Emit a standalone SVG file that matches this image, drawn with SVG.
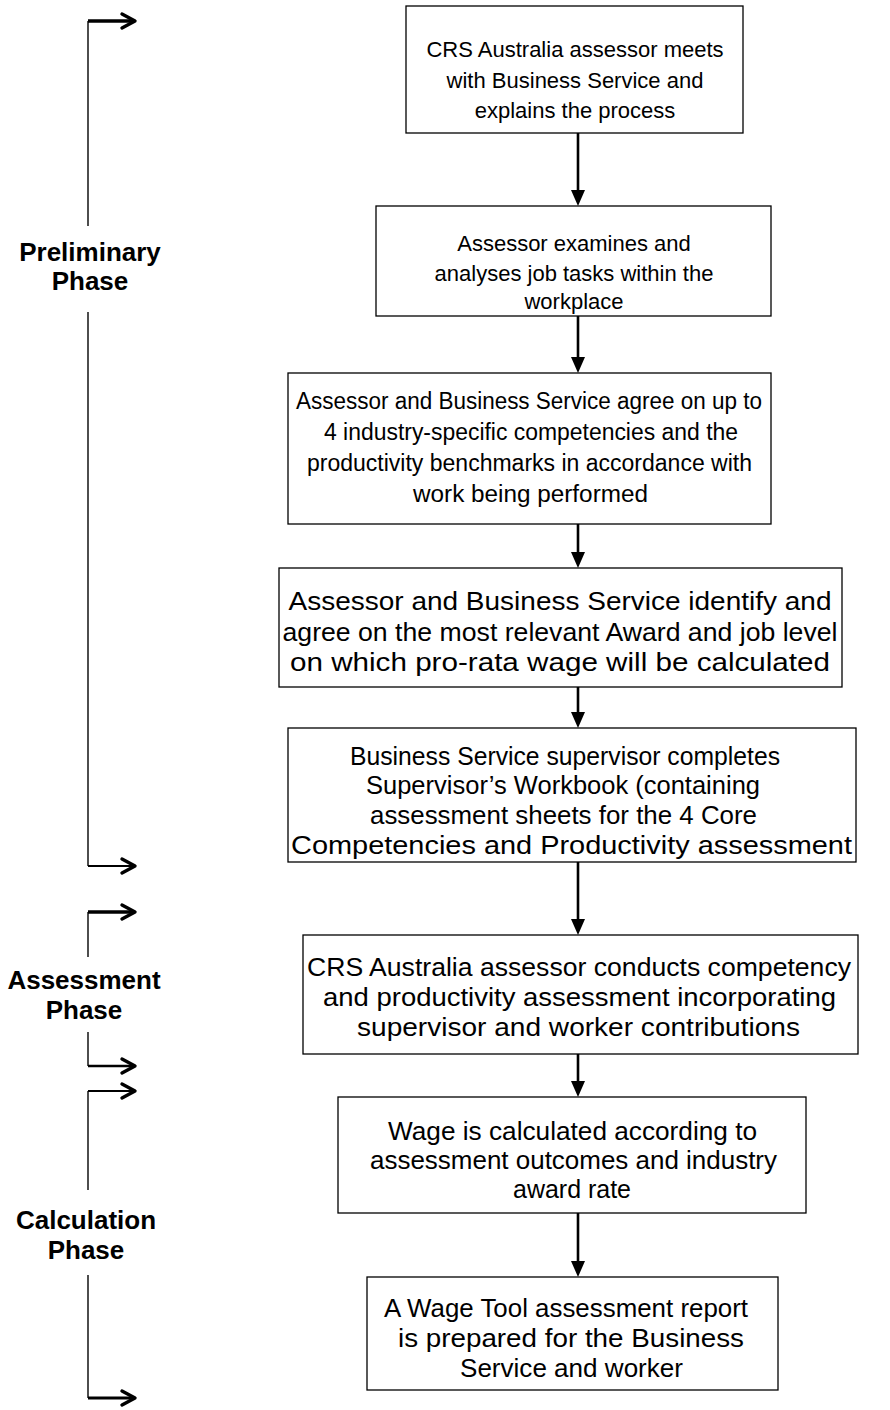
<svg xmlns="http://www.w3.org/2000/svg" width="890" height="1410" viewBox="0 0 890 1410">
<style>
.box{fill:#fff;stroke:#000;stroke-width:1.3}
.t{font-family:"Liberation Sans",Arial,sans-serif;font-size:22px;fill:#000;text-anchor:middle}
.m{font-size:23px}
.b{font-size:25px}
.c{font-size:26px}
.lb{font-family:"Liberation Sans",Arial,sans-serif;font-size:26px;font-weight:bold;fill:#000;text-anchor:middle}
.flow{stroke:#000;stroke-width:2.6;fill:none}
.br{stroke:#222;stroke-width:1.6;fill:none}
.hz{stroke:#000;fill:none}
.chev{stroke:#000;stroke-width:3.4;fill:none;stroke-linecap:round;stroke-linejoin:round}
</style>
<rect width="890" height="1410" fill="#fff"/>
<g id="connectors">
<line class="flow" x1="578" y1="133" x2="578" y2="192"/>
<line class="flow" x1="578" y1="316" x2="578" y2="359"/>
<line class="flow" x1="578" y1="524" x2="578" y2="554"/>
<line class="flow" x1="578" y1="687" x2="578" y2="714"/>
<line class="flow" x1="578" y1="862" x2="578" y2="921"/>
<line class="flow" x1="578" y1="1054" x2="578" y2="1083"/>
<line class="flow" x1="578" y1="1213" x2="578" y2="1263"/>
<g fill="#000">
<path d="M571,190 L585,190 L578,206 Z"/>
<path d="M571,357 L585,357 L578,373 Z"/>
<path d="M571,552 L585,552 L578,568 Z"/>
<path d="M571,712 L585,712 L578,728 Z"/>
<path d="M571,919 L585,919 L578,935 Z"/>
<path d="M571,1081 L585,1081 L578,1097 Z"/>
<path d="M571,1261 L585,1261 L578,1277 Z"/>
</g>
</g>
<g id="box1"><rect class="box" x="406" y="6" width="337" height="127"/>
<text class="t" x="575" y="57">CRS Australia assessor meets</text>
<text class="t" x="575" y="88">with Business Service and</text>
<text class="t" x="575" y="118">explains the process</text></g>
<g id="box2"><rect class="box" x="376" y="206" width="395" height="110"/>
<text class="t" x="574" y="251">Assessor examines and</text>
<text class="t" x="574" y="281">analyses job tasks within the</text>
<text class="t" x="574" y="309">workplace</text></g>
<g id="box3"><rect class="box" x="288" y="373" width="483" height="151"/>
<text class="t m" x="529" y="409" textLength="466" lengthAdjust="spacingAndGlyphs">Assessor and Business Service agree on up to</text>
<text class="t m" x="531" y="440" textLength="414" lengthAdjust="spacingAndGlyphs">4 industry-specific competencies and the</text>
<text class="t m" x="529.5" y="471" textLength="445" lengthAdjust="spacingAndGlyphs">productivity benchmarks in accordance with</text>
<text class="t m" x="530.5" y="502" textLength="235" lengthAdjust="spacingAndGlyphs">work being performed</text></g>
<g id="box4"><rect class="box" x="279" y="568" width="563" height="119"/>
<text class="t c" x="560" y="610" textLength="543" lengthAdjust="spacingAndGlyphs">Assessor and Business Service identify and</text>
<text class="t c" x="560" y="641" textLength="555" lengthAdjust="spacingAndGlyphs">agree on the most relevant Award and job level</text>
<text class="t c" x="560" y="671" textLength="540" lengthAdjust="spacingAndGlyphs">on which pro-rata wage will be calculated</text></g>
<g id="box5"><rect class="box" x="288" y="728" width="568" height="134"/>
<text class="t b" x="565" y="765" textLength="430" lengthAdjust="spacingAndGlyphs">Business Service supervisor completes</text>
<text class="t b" x="563" y="794" textLength="394" lengthAdjust="spacingAndGlyphs">Supervisor’s Workbook (containing</text>
<text class="t b" x="563.5" y="824" textLength="387" lengthAdjust="spacingAndGlyphs">assessment sheets for the 4 Core</text>
<text class="t c" x="571.5" y="854" textLength="561" lengthAdjust="spacingAndGlyphs">Competencies and Productivity assessment</text></g>
<g id="box6"><rect class="box" x="303" y="935" width="555" height="119"/>
<text class="t c" x="579" y="976" textLength="544" lengthAdjust="spacingAndGlyphs">CRS Australia assessor conducts competency</text>
<text class="t c" x="579.5" y="1006" textLength="513" lengthAdjust="spacingAndGlyphs">and productivity assessment incorporating</text>
<text class="t c" x="578.5" y="1036" textLength="443" lengthAdjust="spacingAndGlyphs">supervisor and worker contributions</text></g>
<g id="box7"><rect class="box" x="338" y="1097" width="468" height="116"/>
<text class="t b" x="572.5" y="1140" textLength="369" lengthAdjust="spacingAndGlyphs">Wage is calculated according to</text>
<text class="t b" x="573.5" y="1169" textLength="407" lengthAdjust="spacingAndGlyphs">assessment outcomes and industry</text>
<text class="t b" x="572" y="1198" textLength="118" lengthAdjust="spacingAndGlyphs">award rate</text></g>
<g id="box8"><rect class="box" x="367" y="1277" width="411" height="113"/>
<text class="t b" x="566" y="1317" textLength="364" lengthAdjust="spacingAndGlyphs">A Wage Tool assessment report</text>
<text class="t b" x="571" y="1347" textLength="346" lengthAdjust="spacingAndGlyphs">is prepared for the Business</text>
<text class="t b" x="571.5" y="1377" textLength="223" lengthAdjust="spacingAndGlyphs">Service and worker</text></g>
<g id="phase-preliminary">
<path class="br" d="M88,21 V226 M88,312 V866"/>
<line class="hz" x1="88" y1="21" x2="134" y2="21" stroke-width="3.5"/>
<polyline class="chev" points="122,14 135,21 122,28"/>
<line class="hz" x1="88" y1="866" x2="134" y2="866" stroke-width="2"/>
<polyline class="chev" points="122,859 135,866 122,873"/>
<text class="lb" x="90" y="261">Preliminary</text>
<text class="lb" x="90" y="290">Phase</text>
</g>
<g id="phase-assessment">
<path class="br" d="M88,912 V957 M88,1032 V1066"/>
<line class="hz" x1="88" y1="912" x2="134" y2="912" stroke-width="3.5"/>
<polyline class="chev" points="122,905 135,912 122,919"/>
<line class="hz" x1="88" y1="1066" x2="134" y2="1066" stroke-width="2.5"/>
<polyline class="chev" points="122,1059 135,1066 122,1073"/>
<text class="lb" x="84" y="989">Assessment</text>
<text class="lb" x="84" y="1019">Phase</text>
</g>
<g id="phase-calculation">
<path class="br" d="M88,1091 V1190 M88,1275 V1398"/>
<line class="hz" x1="88" y1="1091" x2="134" y2="1091" stroke-width="2"/>
<polyline class="chev" points="122,1084 135,1091 122,1098"/>
<line class="hz" x1="88" y1="1398" x2="134" y2="1398" stroke-width="3"/>
<polyline class="chev" points="122,1391 135,1398 122,1405"/>
<text class="lb" x="86" y="1229">Calculation</text>
<text class="lb" x="86" y="1259">Phase</text>
</g>
</svg>
